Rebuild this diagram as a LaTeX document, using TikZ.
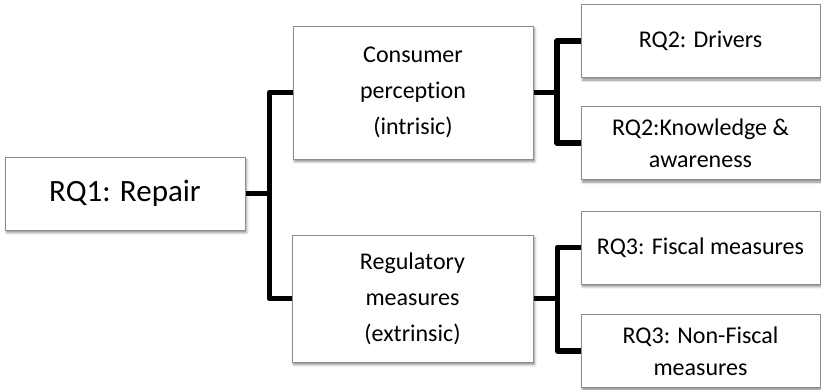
\documentclass[tikz,border=0pt]{standalone}
\usepackage{fontspec}
\setmainfont{Carlito}[Ligatures={NoCommon,NoContextual,NoRare},Contextuals=NoAlternate]
\usetikzlibrary{shadows.blur}
\definecolor{boxline}{HTML}{8C8C8C}
\tikzset{
  card/.style={draw=boxline, line width=1pt, fill=white, inner sep=0pt,
    align=center, font=\fontsize{24}{36}\selectfont,
    blur shadow={shadow xshift=1.6pt, shadow yshift=-2.6pt,
      shadow blur radius=2.5pt, shadow opacity=45}},
  leaf/.style={card, minimum width=239pt, minimum height=73pt,
    font=\fontsize{24}{32}\selectfont},
  link/.style={line width=5.5pt, line join=round}
}
\begin{document}
\begin{tikzpicture}[x=1pt,y=-1pt]
  \useasboundingbox (0,0) rectangle (821,389);

  % root
  \node[card, minimum width=240pt, minimum height=73pt,
        font=\fontsize{31}{36}\selectfont] (rq1) at (125,193.5) {RQ1: Repair};

  % middle level
  \node[card, minimum width=240pt, minimum height=133pt] (cons) at (413,92.5)
    {Consumer\\perception\\(intrisic)};
  \node[card, minimum width=241pt, minimum height=127pt] (reg) at (412.5,298.5)
    {Regulatory\\measures\\(extrinsic)};

  % leaves
  \node[leaf] (drv)  at (700.5,41)    {RQ2: Drivers};
  \node[leaf] (know) at (700.5,143)   {RQ2:Knowledge \&\\awareness};
  \node[leaf] (fis)  at (700.5,247.5) {RQ3: Fiscal measures};
  \node[leaf] (nfis) at (700.5,351)   {RQ3: Non-Fiscal\\measures};

  % connectors
  \draw[link] (rq1.east) -- ++(24,0) coordinate (j1);
  \draw[link] (cons.west) -- (cons.west -| j1) -- (reg.west -| j1) -- (reg.west);

  \draw[link] (cons.east) -- ++(23.5,0) coordinate (j2);
  \draw[link] (drv.west) -- (drv.west -| j2) -- (know.west -| j2) -- (know.west);

  \draw[link] (reg.east) -- ++(24,0) coordinate (j3);
  \draw[link] (fis.west) -- (fis.west -| j3) -- (nfis.west -| j3) -- (nfis.west);
\end{tikzpicture}
\end{document}
